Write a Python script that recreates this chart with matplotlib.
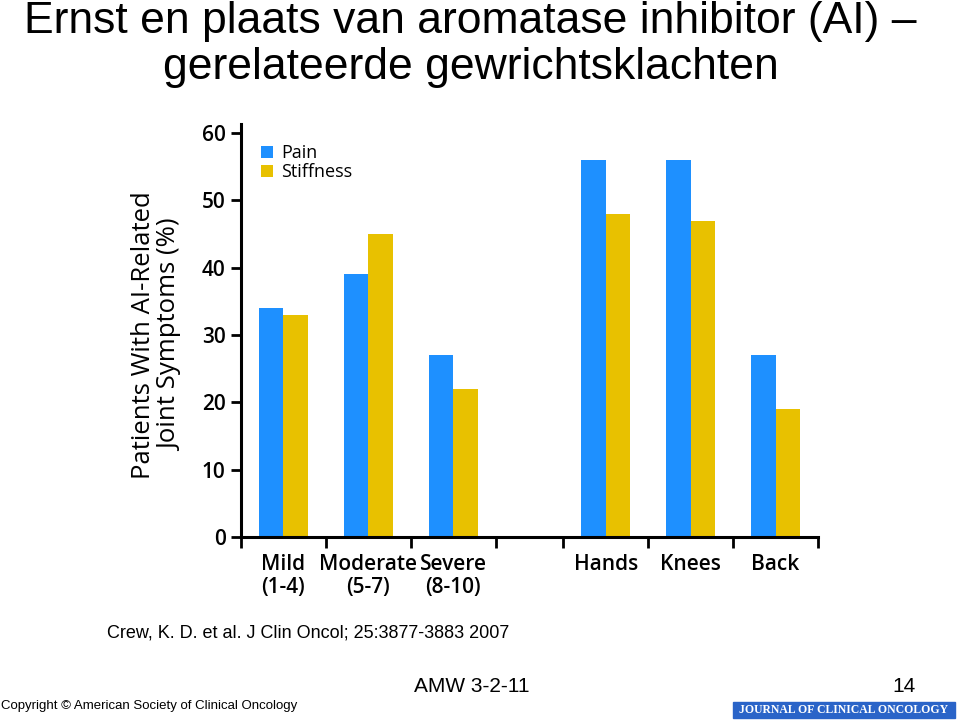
import matplotlib
matplotlib.use("Agg")
import matplotlib.pyplot as plt
from matplotlib.patches import Rectangle

categories = ["Mild\n(1-4)", "Moderate\n(5-7)", "Severe\n(8-10)", "Hands", "Knees", "Back"]
pain = [34, 39, 27, 56, 56, 27]
stiffness = [33, 45, 22, 48, 47, 19]
yticks = [0, 10, 20, 30, 40, 50, 60]

positions = [0, 1, 2, 3.8, 4.8, 5.8]
boundaries = [-0.5, 0.5, 1.5, 2.5, 3.3, 4.3, 5.3, 6.3]

BLUE = "#1E90FF"
YELLOW = "#E8C100"
chart_font = ["Open Sans", "DejaVu Sans"]
arial = ["Liberation Sans", "DejaVu Sans"]

fig = plt.figure(figsize=(9.6, 7.21), dpi=100)
W, H = 960, 721
ax = fig.add_axes([241 / W, (H - 537) / H, (818 - 241) / W, (537 - 124) / H])

bw = 0.29
ax.bar([p - bw / 2 for p in positions], pain, width=bw, color=BLUE, label="Pain")
ax.bar([p + bw / 2 for p in positions], stiffness, width=bw, color=YELLOW, label="Stiffness")

ax.set_xlim(-0.5, 6.3)
ax.set_ylim(0, 61.34)
for s in ["top", "right"]:
    ax.spines[s].set_visible(False)
for s in ["left", "bottom"]:
    ax.spines[s].set_linewidth(2.2)

ax.set_yticks(yticks)
ax.set_yticklabels([str(v) for v in yticks], family=chart_font, fontsize=15, fontweight="semibold")
ax.tick_params(axis="y", direction="out", length=7, width=2, pad=4)

ax.set_xticks(boundaries)
ax.set_xticklabels([""] * len(boundaries))
ax.tick_params(axis="x", which="major", direction="out", length=8, width=2)
ax.set_xticks(positions, minor=True)
ax.set_xticklabels(categories, minor=True, family=chart_font, fontsize=15,
                   fontweight="semibold", linespacing=1.15)
ax.tick_params(axis="x", which="minor", length=0, pad=12)

leg = ax.legend(loc="upper left", bbox_to_anchor=(0.022, 0.968), frameon=False,
                prop={"family": chart_font, "size": 13},
                handlelength=0.65, handleheight=0.65,
                handletextpad=0.45, labelspacing=0.05, borderaxespad=0)

fig.text(157 / W, 1 - 335 / H, "Patients With AI-Related\nJoint Symptoms (%)", rotation=90,
         ha="center", va="center", family=chart_font, fontsize=18.5, linespacing=1.12)

fig.text(470 / W, 1 - 21 / H, "Ernst en plaats van aromatase inhibitor (AI) –",
         ha="center", va="center", family=arial, fontsize=32)
fig.text(471 / W, 1 - 67 / H, "gerelateerde gewrichtsklachten",
         ha="center", va="center", family=arial, fontsize=32)

fig.text(107 / W, 1 - 633 / H, "Crew, K. D. et al. J Clin Oncol; 25:3877-3883 2007",
         ha="left", va="center", family=arial, fontsize=13)
fig.text(472 / W, 1 - 687 / H, "AMW 3-2-11", ha="center", va="center", family=arial, fontsize=15)
fig.text(904 / W, 1 - 687 / H, "14", ha="center", va="center", family=arial, fontsize=15)
fig.text(1 / W, 1 - 706 / H, "Copyright © American Society of Clinical Oncology",
         ha="left", va="center", family=arial, fontsize=9.5)

fig.patches.append(Rectangle((733 / W, 1 - 718 / H), (955 - 733) / W, 16 / H,
                             transform=fig.transFigure, color="#2A64C8", zorder=1))
fig.text(844 / W, 1 - 710 / H, "JOURNAL OF CLINICAL ONCOLOGY", ha="center", va="center",
         family=["Liberation Serif", "DejaVu Serif"], fontsize=8.5, color="white",
         fontweight="bold", zorder=2)

fig.savefig("out.png", dpi=100)
